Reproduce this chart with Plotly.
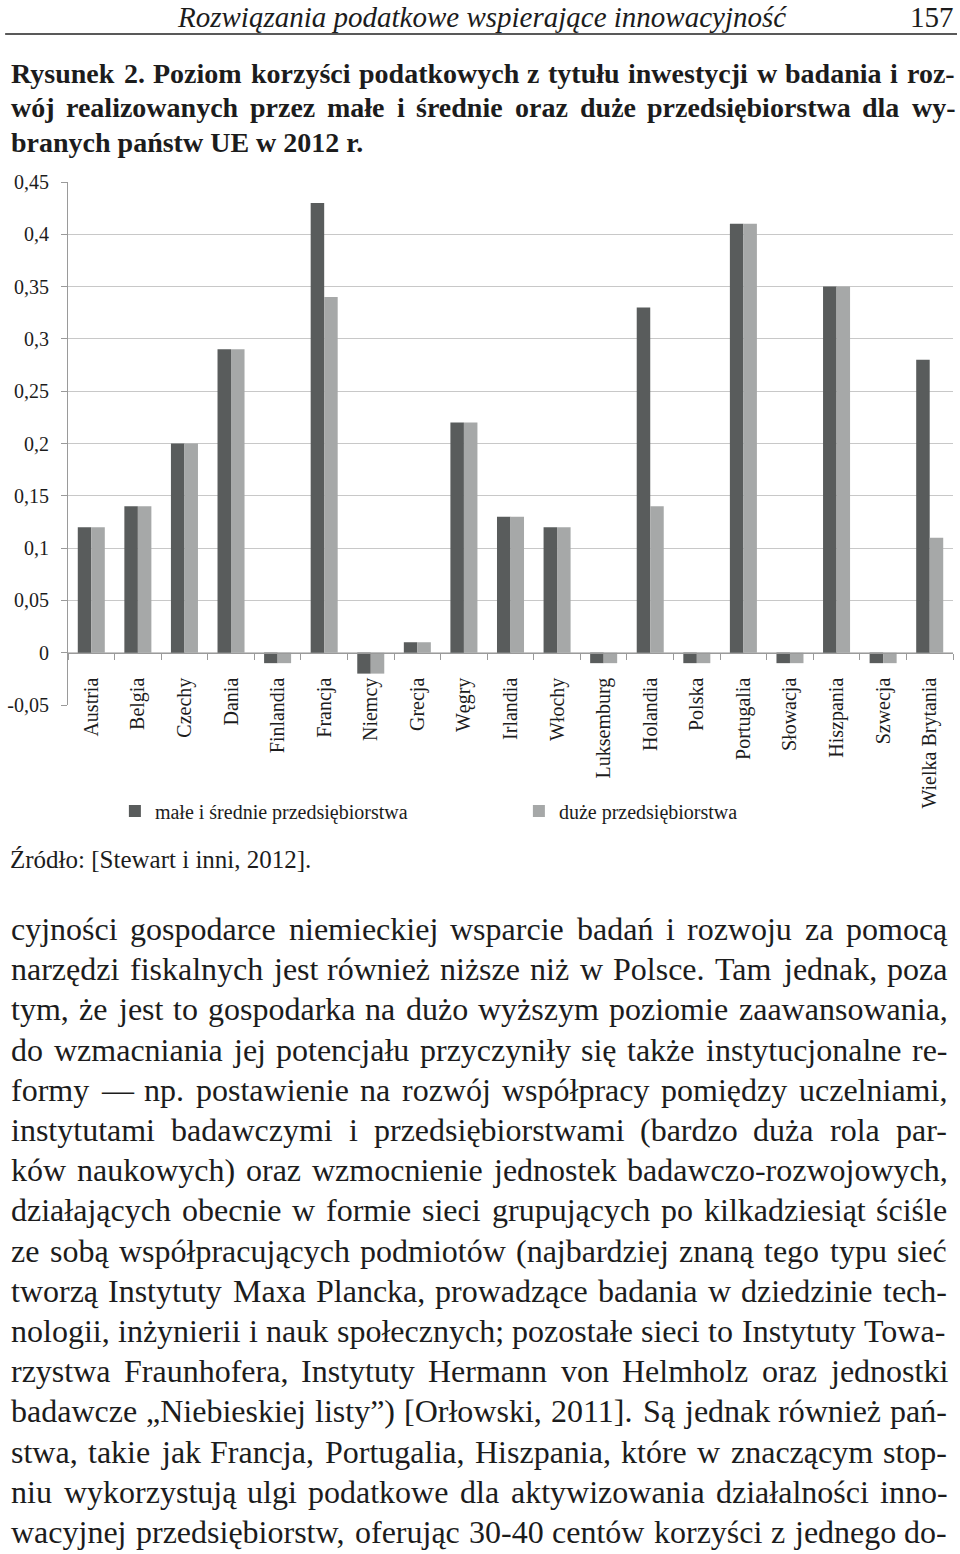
import plotly.graph_objects as go

categories = ["Austria", "Belgia", "Czechy", "Dania", "Finlandia", "Francja", "Niemcy",
              "Grecja", "Węgry", "Irlandia", "Włochy", "Luksemburg", "Holandia", "Polska",
              "Portugalia", "Słowacja", "Hiszpania", "Szwecja", "Wielka Brytania"]
sme = [0.12, 0.14, 0.20, 0.29, -0.01, 0.43, -0.02, 0.01, 0.22, 0.13, 0.12, -0.01,
       0.33, -0.01, 0.41, -0.01, 0.35, -0.01, 0.28]
large = [0.12, 0.14, 0.20, 0.29, -0.01, 0.34, -0.02, 0.01, 0.22, 0.13, 0.12, -0.01,
         0.14, -0.01, 0.41, -0.01, 0.35, -0.01, 0.11]
series_names = ["małe i średnie przedsiębiorstwa", "duże przedsiębiorstwa"]
y_tickvals = [-0.05, 0, 0.05, 0.1, 0.15, 0.2, 0.25, 0.3, 0.35, 0.4, 0.45]
y_ticktext = ["-0,05", "0", "0,05", "0,1", "0,15", "0,2", "0,25", "0,3", "0,35", "0,4", "0,45"]

header_text = "Rozwiązania podatkowe wspierające innowacyjność"
page_number = "157"
title_lines = [
    "Rysunek 2. Poziom korzyści podatkowych z tytułu inwestycji w badania i roz-",
    "wój realizowanych przez małe i średnie oraz duże przedsiębiorstwa dla wy-",
    "branych państw UE w 2012 r.",
]
source_text = "Źródło: [Stewart i inni, 2012]."
body_lines = [
    "cyjności gospodarce niemieckiej wsparcie badań i rozwoju za pomocą",
    "narzędzi fiskalnych jest również niższe niż w Polsce. Tam jednak, poza",
    "tym, że jest to gospodarka na dużo wyższym poziomie zaawansowania,",
    "do wzmacniania jej potencjału przyczyniły się także instytucjonalne re-",
    "formy — np. postawienie na rozwój współpracy pomiędzy uczelniami,",
    "instytutami badawczymi i przedsiębiorstwami (bardzo duża rola par-",
    "ków naukowych) oraz wzmocnienie jednostek badawczo-rozwojowych,",
    "działających obecnie w formie sieci grupujących po kilkadziesiąt ściśle",
    "ze sobą współpracujących podmiotów (najbardziej znaną tego typu sieć",
    "tworzą Instytuty Maxa Plancka, prowadzące badania w dziedzinie tech-",
    "nologii, inżynierii i nauk społecznych; pozostałe sieci to Instytuty Towa-",
    "rzystwa Fraunhofera, Instytuty Hermann von Helmholz oraz jednostki",
    "badawcze „Niebieskiej listy”) [Orłowski, 2011]. Są jednak również pań-",
    "stwa, takie jak Francja, Portugalia, Hiszpania, które w znaczącym stop-",
    "niu wykorzystują ulgi podatkowe dla aktywizowania działalności inno-",
    "wacyjnej przedsiębiorstw, oferując 30-40 centów korzyści z jednego do-",
]

W, H = 960, 1554
L, R, T, B = 66, 7, 182, 849
PW, PH = W - L - R, H - T - B
SERIF = "Liberation Serif"
INK = "#1c1c1c"


def px(x):
    return (x - L) / PW


def py(y):
    return (H - B - y) / PH


# approximate advance widths (1/1000 em) of Liberation Serif, used only to justify lines
_REG = {}
_BOLD = {}
for chars, w in [("abcdeghknopquvxyz", 500), ("ilt", 278), ("j", 278), ("f", 333), ("r", 333),
                 ("s", 389), ("m", 778), ("w", 722), ("ace", 444), ("z", 444),
                 ("ADGHKNOQUVXY", 722), ("BCR", 667), ("EL TZ".replace(" ", ""), 611),
                 ("FPS", 556), ("I", 333), ("J", 389), ("M", 889), ("W", 944),
                 ("0123456789", 500), (" ,.", 250), ("-()[]", 333), (":;", 278),
                 ("—", 1000), ("„”", 444)]:
    for ch in chars:
        _REG[ch] = w
for chars, w in [("bdhknpqu", 556), ("ilt", 278), ("t", 333), ("j", 333), ("f", 333), ("r", 444),
                 ("s", 389), ("m", 833), ("w", 722), ("ceaz", 444), ("a", 500), ("go", 500),
                 ("vxy", 500), ("ADNUVXY", 722), ("R", 722), ("BE", 667), ("P", 611),
                 ("0123456789", 500), (" ,.", 250), ("-", 333)]:
    for ch in chars:
        _BOLD[ch] = w
_STRIP = str.maketrans("ąćęłńóśźżĄĆĘŁŃÓŚŹŻ", "acelnoszzACELNOSZZ")


def text_width(s, size, bold=False):
    table = _BOLD if bold else _REG
    return sum(table.get(c, 500) for c in s.translate(_STRIP)) * size / 1000.0


def justified(line, x0, x1, yc, size, bold=False):
    words = line.split(" ")
    widths = [text_width(w, size, bold) for w in words]
    gap = (x1 - x0 - sum(widths)) / max(len(words) - 1, 1)
    out = []
    x = x0
    for w, wd in zip(words, widths):
        out.append(dict(text=("<b>%s</b>" % w) if bold else w, x=px(x), y=py(yc),
                        xanchor="left", yanchor="middle",
                        font=dict(family=SERIF, size=size, color=INK)))
        x += wd + gap
    return out


fig = go.Figure()
fig.add_trace(go.Bar(x=categories, y=sme, name=series_names[0],
                     marker=dict(color="#595c5c", line=dict(width=0))))
fig.add_trace(go.Bar(x=categories, y=large, name=series_names[1],
                     marker=dict(color="#a6a8a8", line=dict(width=0))))

ann = []
# page header
ann.append(dict(text=header_text, x=px(481), y=py(17), xanchor="center", yanchor="middle",
                font=dict(family=SERIF, size=29, color=INK, style="italic")))
ann.append(dict(text=page_number, x=px(956), y=py(17), xanchor="right", yanchor="middle",
                font=dict(family=SERIF, size=29, color=INK)))
# figure title (first two lines justified like the printed page)
for i, line in enumerate(title_lines):
    yc = 73 + i * 34.5
    if i < len(title_lines) - 1:
        ann.extend(justified(line, 7, 953, yc, 28, bold=True))
    else:
        ann.append(dict(text="<b>" + line + "</b>", x=px(7), y=py(yc), xanchor="left",
                        yanchor="middle", font=dict(family=SERIF, size=28, color=INK)))
# source
ann.append(dict(text=source_text, x=px(6), y=py(859), xanchor="left", yanchor="middle",
                font=dict(family=SERIF, size=25, color=INK)))
# body text, justified
for i, line in enumerate(body_lines):
    ann.extend(justified(line, 7, 945, 929 + i * 40.2, 32))
for a in ann:
    a.update(xref="paper", yref="paper", showarrow=False)

fig.update_layout(
    width=W, height=H,
    margin=dict(l=L, r=R, t=T, b=B),
    paper_bgcolor="white", plot_bgcolor="white",
    barmode="group", bargap=0.42, bargroupgap=0,
    font=dict(family=SERIF, size=20, color=INK),
    showlegend=True,
    legend=dict(orientation="h", x=px(113), y=py(811), xanchor="left", yanchor="middle",
                entrywidth=359, entrywidthmode="pixels", font=dict(family=SERIF, size=20, color=INK),
                bgcolor="rgba(0,0,0,0)", borderwidth=0, tracegroupgap=0),
    annotations=ann,
    shapes=[dict(type="line", xref="paper", yref="paper", x0=px(3), x1=px(957),
                 y0=py(34), y1=py(34), line=dict(color="#222222", width=1.5))],
)
fig.update_xaxes(type="category", anchor="free", position=0.1, showline=True,
                 linecolor="#9a9a9a", linewidth=1, ticks="outside", ticklen=6,
                 tickcolor="#9a9a9a", tickson="boundaries", tickangle=-90,
                 tickfont=dict(family=SERIF, size=20, color=INK), showgrid=False,
                 ticklabelstandoff=16)
fig.update_yaxes(range=[-0.05, 0.45], tickmode="array", tickvals=y_tickvals, ticktext=y_ticktext,
                 showgrid=True, gridcolor="#c8c8c8", gridwidth=1, zeroline=False,
                 showline=True, linecolor="#9a9a9a", linewidth=1, ticks="outside", ticklen=6,
                 tickcolor="#9a9a9a", tickfont=dict(family=SERIF, size=20, color=INK),
                 ticklabelstandoff=8)

fig.write_html("out.html", post_script="document.body.style.margin='0';",
               config={"displayModeBar": False})
